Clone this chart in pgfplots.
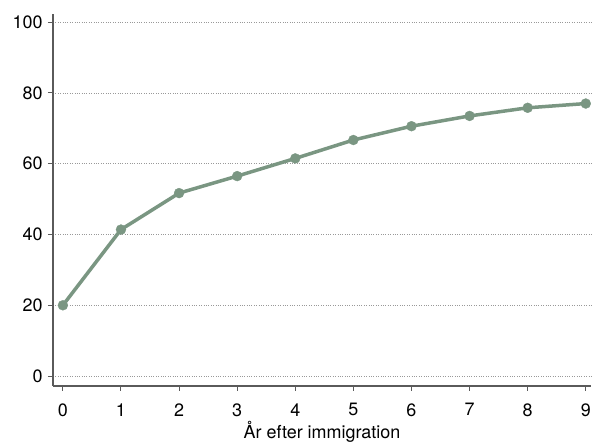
\documentclass[border=0pt]{standalone}
\usepackage{pgfplots}
\pgfplotsset{compat=1.18}
\usepackage{fontspec}
\setmainfont{TeX Gyre Heros}
\definecolor{lineg}{HTML}{7A9682}
\definecolor{axg}{HTML}{5A5A5A}
\begin{document}
\begin{tikzpicture}[x=1bp,y=1bp]
\begin{axis}[
  at={(0,0)}, anchor=south west,
  scale only axis, width=538bp, height=372bp,
  xmin=-0.17, xmax=9.09, ymin=-2.8, ymax=102.3,
  axis lines=left,
  axis line style={-, draw=axg, line width=1.2bp},
  xtick={0,...,9}, ytick={0,20,40,60,80,100},
  tick align=outside,
  major tick length=5bp,
  tick style={draw=axg, line width=1bp},
  ymajorgrids,
  grid style={dotted, draw=black!40, line width=0.8bp},
  every tick label/.append style={font=\fontsize{18}{21}\selectfont, text=black},
  /pgf/number format/assume math mode=true,
  xlabel={År efter immigration},
  xlabel style={font=\fontsize{18}{21}\selectfont, yshift=2bp},
  xticklabel style={yshift=-9bp},
  yticklabel style={xshift=-2bp},
  clip=false,
]
\addplot[color=lineg, line width=3.5bp, mark=*, mark size=5bp, mark options={solid, fill=lineg, draw=lineg, line width=0.3bp}]
coordinates {(0,20.0) (1,41.4) (2,51.7) (3,56.5) (4,61.5) (5,66.7) (6,70.6) (7,73.5) (8,75.8) (9,77.0)};
\end{axis}
\pgfresetboundingbox
\path[use as bounding box] (-53bp,-58bp) rectangle (541bp,386bp);
\end{tikzpicture}
\end{document}
